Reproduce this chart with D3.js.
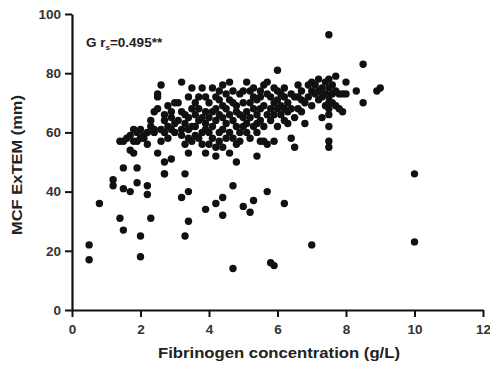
<!DOCTYPE html>
<html>
<head>
<meta charset="utf-8">
<script src="https://cdn.jsdelivr.net/npm/d3@7"></script>
<style>
  body { margin: 0; background: #fff; }
  text { font-family: "Liberation Sans", Arial, sans-serif; font-weight: bold; }
</style>
</head>
<body>
<div id="chart"></div>
<script>
// Fibrinogen (g/L) vs MCF ExTEM (mm)
const lowPoints = [
  [0.5, 22], [0.5, 17], [0.8, 36], [1.2, 44], [1.2, 42], [1.4, 31], [1.5, 41], [1.5, 27],
  [1.7, 40], [1.9, 43], [2.0, 25], [2.0, 18], [2.2, 42], [2.2, 39], [2.3, 31], [2.7, 46],
  [3.2, 38], [3.3, 46], [3.3, 25], [3.4, 40], [3.4, 30], [3.9, 34], [4.2, 36], [4.4, 38],
  [4.4, 32], [4.7, 42], [4.7, 14], [5.0, 35], [5.2, 33], [5.3, 37], [5.7, 40], [6.2, 36],
  [7.0, 22], [5.8, 16], [5.9, 15], [10, 46], [10, 23]
];
const highPoints = [
  [7.5, 93], [8.5, 83], [8.3, 74], [8.5, 70], [8.9, 74], [9.0, 75], [6.0, 81], [7.7, 79], [8.0, 77]
];
const clusterPoints = [
  // 1.3 - 2.0
  [1.4, 57], [1.5, 57], [1.5, 48], [1.6, 58], [1.7, 59], [1.8, 57], [1.8, 61], [1.9, 60],
  [1.8, 53], [1.9, 48], [1.7, 54], [2.0, 58], [1.9, 57],
  // 2.0 - 2.5
  [2.0, 61], [2.1, 59], [2.2, 56], [2.2, 60], [2.3, 62], [2.4, 60], [2.3, 64], [2.4, 67],
  [2.5, 68], [2.5, 72], [2.5, 73], [2.4, 61], [2.5, 53], [2.1, 58],
  // 2.5 - 3.0
  [2.6, 76], [2.6, 61], [2.7, 60], [2.7, 64], [2.8, 69], [2.8, 62], [2.9, 61], [2.9, 65],
  [3.0, 70], [2.7, 50], [2.7, 46], [2.9, 51], [2.6, 57], [2.8, 58], [3.0, 60], [2.9, 67], [2.7, 66],
  // 3.0 - 3.5
  [3.2, 77], [3.1, 70], [3.2, 61], [3.3, 63], [3.4, 72], [3.5, 75], [3.3, 66], [3.4, 58],
  [3.3, 56], [3.4, 61], [3.1, 64], [3.2, 67], [3.5, 68], [3.5, 62], [3.4, 53], [3.2, 59],
  [3.0, 63], [3.4, 65],
  // 3.5 - 4.0
  [3.6, 62], [3.6, 66], [3.7, 64], [3.8, 75], [3.7, 58], [3.8, 60], [3.9, 63], [3.9, 67],
  [3.6, 70], [3.7, 72], [3.8, 56], [3.9, 61], [4.0, 65], [3.7, 68], [3.9, 53], [3.8, 65],
  [3.6, 59], [4.0, 70], [3.9, 72], [3.5, 57],
  // 4.0 - 4.5
  [4.1, 75], [4.1, 62], [4.2, 64], [4.2, 68], [4.3, 66], [4.3, 71], [4.4, 76], [4.4, 61],
  [4.1, 58], [4.2, 55], [4.3, 60], [4.4, 65], [4.5, 63], [4.0, 60], [4.2, 72], [4.4, 69],
  [4.1, 67], [4.3, 57], [4.5, 58], [4.4, 55], [4.2, 52], [4.0, 56], [4.5, 68], [4.3, 74],
  // 4.5 - 5.0
  [4.6, 77], [4.6, 66], [4.7, 64], [4.7, 70], [4.8, 62], [4.8, 67], [4.9, 73], [4.9, 60],
  [4.6, 60], [4.7, 58], [5.0, 65], [4.8, 56], [4.9, 66], [4.6, 71], [4.7, 74], [4.8, 69],
  [5.0, 62], [5.0, 70], [4.5, 73], [4.9, 57], [4.6, 53], [4.8, 50],
  // 5.0 - 5.5
  [5.1, 77], [5.1, 67], [5.2, 65], [5.2, 70], [5.3, 72], [5.3, 62], [5.4, 66], [5.4, 60],
  [5.5, 68], [5.1, 63], [5.2, 58], [5.3, 75], [5.4, 71], [5.5, 64], [5.0, 74], [5.2, 74],
  [5.4, 52], [5.5, 57], [5.1, 60], [5.3, 68], [5.5, 72], [5.4, 63],
  // 5.5 - 6.0
  [5.6, 76], [5.7, 77], [5.6, 69], [5.7, 66], [5.8, 72], [5.8, 64], [5.9, 70], [5.9, 57],
  [5.6, 57], [5.7, 56], [6.0, 74], [5.6, 62], [5.8, 68], [5.9, 66], [6.0, 68], [5.7, 73],
  [6.0, 62], [5.5, 74], [5.9, 75],
  // 6.0 - 6.5
  [6.1, 73], [6.1, 66], [6.2, 72], [6.2, 68], [6.3, 70], [6.3, 63], [6.4, 73], [6.4, 58],
  [6.5, 55], [6.5, 72], [6.2, 75], [6.1, 69], [6.3, 67], [6.4, 68], [6.5, 65], [6.2, 64], [6.0, 71],
  // 6.5 - 7.0
  [6.6, 72], [6.6, 68], [6.7, 74], [6.7, 71], [6.8, 63], [6.8, 70], [6.9, 72], [6.9, 76],
  [7.0, 74], [6.7, 67], [6.6, 76], [7.0, 69],
  // 7.0 - 7.5
  [7.1, 73], [7.1, 76], [7.2, 74], [7.2, 71], [7.3, 65], [7.3, 75], [7.4, 73], [7.4, 77],
  [7.5, 78], [7.5, 75], [7.5, 72], [7.5, 70], [7.5, 68], [7.5, 66], [7.5, 62], [7.5, 57],
  [7.5, 55], [7.4, 69], [7.2, 78], [7.0, 77], [7.3, 72],
  // 7.5 - 8.0
  [7.6, 76], [7.6, 73], [7.7, 74], [7.7, 69], [7.8, 73], [7.9, 73], [7.8, 68], [7.9, 67],
  [7.6, 70], [8.0, 73]
];
const xTicks = [0, 2, 4, 6, 8, 10, 12];
const yTicks = [0, 20, 40, 60, 80, 100];

const width = 490, height = 370;
const margin = { top: 14, right: 7, bottom: 60, left: 72 };

const svg = d3.select('#chart')
  .append('svg')
  .attr('width', width)
  .attr('height', height);

const x = d3.scaleLinear().domain([0, 12]).range([margin.left, width - margin.right]);
const y = d3.scaleLinear().domain([0, 100]).range([height - margin.bottom, margin.top]);

// axes
const xAxisG = svg.append('g')
  .attr('transform', `translate(0, ${height - margin.bottom})`)
  .call(d3.axisBottom(x).tickValues(xTicks).tickSize(7).tickPadding(7).tickSizeOuter(0));
const yAxisG = svg.append('g')
  .attr('transform', `translate(${margin.left}, 0)`)
  .call(d3.axisLeft(y).tickValues(yTicks).tickSize(7).tickPadding(4).tickSizeOuter(0));

[xAxisG, yAxisG].forEach(g => {
  g.select('.domain').attr('stroke', '#111').attr('stroke-width', 2.2);
  g.selectAll('.tick line').attr('stroke', '#111').attr('stroke-width', 2);
  g.selectAll('.tick text')
    .attr('fill', '#333')
    .style('font-size', '13.5px')
    .style('font-weight', 'bold')
    .style('font-family', '"Liberation Sans", Arial, sans-serif');
});

// dots
const allPoints = lowPoints.concat(clusterPoints, highPoints);
svg.append('g')
  .selectAll('circle')
  .data(allPoints)
  .join('circle')
  .attr('cx', d => x(d[0]))
  .attr('cy', d => y(d[1]))
  .attr('r', 3.7)
  .attr('fill', '#111');

// axis titles (the source figure is slightly stretched sideways)
svg.append('text')
  .attr('x', 279)
  .attr('y', 358)
  .attr('text-anchor', 'middle')
  .attr('fill', '#222')
  .attr('textLength', 242)
  .attr('lengthAdjust', 'spacingAndGlyphs')
  .style('font-size', '15px')
  .text('Fibrinogen concentration (g/L)');

svg.append('text')
  .attr('transform', `translate(22, 165) rotate(-90)`)
  .attr('text-anchor', 'middle')
  .attr('fill', '#222')
  .attr('textLength', 140)
  .attr('lengthAdjust', 'spacingAndGlyphs')
  .style('font-size', '15px')
  .text('MCF ExTEM (mm)');

// annotation
const ann = svg.append('text')
  .attr('x', 86)
  .attr('y', 47)
  .attr('fill', '#222')
  .style('font-size', '13.5px');
ann.append('tspan').text('G r');
ann.append('tspan').attr('dy', 3).style('font-size', '8px').text('s');
ann.append('tspan').attr('dy', -3).text('=0.495**');
</script>
</body>
</html>
